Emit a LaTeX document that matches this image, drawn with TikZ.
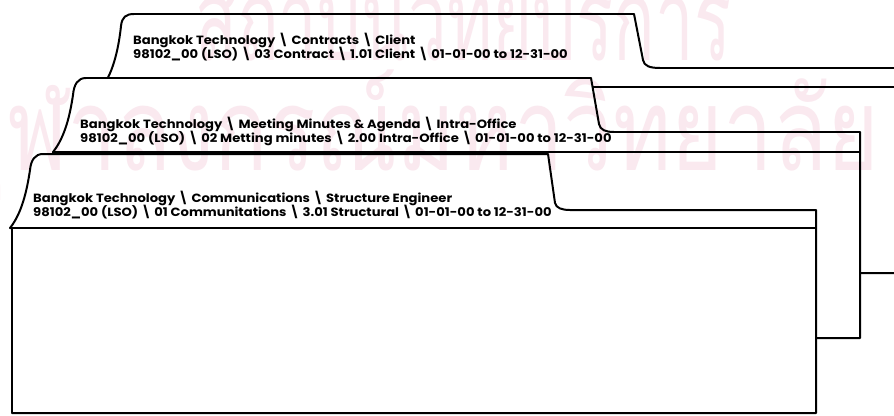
\documentclass[tikz,border=0pt]{standalone}
\usepackage{fontspec}
\newfontfamily\tabfont{Poppins}[FakeStretch=1.1]
\newfontfamily\thaifont[Script=Thai]{Loma}
\usetikzlibrary{positioning}
\definecolor{wmpink}{RGB}{250,233,239}
\newcommand{\bsl}{\textbackslash}
\tikzset{
  folder/.style={draw, fill=white, line width=1.7pt, line join=round},
  foldline/.style={line width=1.2pt},
  tabtext/.style={anchor=base west, inner sep=0pt, font=\tabfont\bfseries\fontsize{10.2}{12}\selectfont},
  watermark/.style={anchor=base west, inner sep=0pt, text=wmpink, font=\thaifont\fontsize{98}{100}\selectfont},
}

\begin{document}
\begin{tikzpicture}[x=0.03cm, y=-0.03cm]
  \useasboundingbox (0,0) rectangle (894,415);
  \clip (0,0) rectangle (894,415);
  % back folder
  \draw[folder] (102,87) .. controls (114,72) and (119,45) .. (121,26)
    .. controls (122,17) and (126,14) .. (134,14) -- (634,14) -- (643,60)
    .. controls (644,66) and (650,68) .. (660,68) -- (900,68) -- (900,273) -- (102,273) -- cycle;
  \draw[foldline] (102,87) -- (900,87);
  \node[tabtext] (c1) at (133,44) {Bangkok Technology \bsl{} Contracts \bsl{} Client};
  \node[tabtext] (c2) at (133,58) {98102\_00 (LSO) \bsl{} 03 Contract \bsl{} 1.01 Client \bsl{} 01-01-00 to 12-31-00};
  % middle folder
  \draw[folder] (53,152) .. controls (65,137) and (70,115) .. (73,95)
    .. controls (74,84) and (78,78) .. (86,78) -- (591,78) -- (599,124)
    .. controls (600,130) and (606,132) .. (614,132) -- (860,132) -- (860,338) -- (53,338) -- cycle;
  \draw[foldline] (53,152) -- (860,152);
  \node[tabtext] (m1) at (80,128) {Bangkok Technology \bsl{} Meeting Minutes \& Agenda \bsl{} Intra-Office};
  \node[tabtext] (m2) at (80,142) {98102\_00 (LSO) \bsl{} 02 Metting minutes \bsl{} 2.00 Intra-Office \bsl{} 01-01-00 to 12-31-00};
  % front folder
  \draw[folder] (10,228) .. controls (22,213) and (27,190) .. (30,170)
    .. controls (31,160) and (35,154) .. (43,154) -- (548,154) -- (555,203)
    .. controls (556,208) and (562,210) .. (570,210) -- (816,210) -- (816,413) -- (12,413) -- (12,228) -- cycle;
  \draw[foldline] (10,228) -- (816,228);
  \node[tabtext] (s1) at (33,202) {Bangkok Technology \bsl{} Communications \bsl{} Structure Engineer};
  \node[tabtext] (s2) at (33,216) {98102\_00 (LSO) \bsl{} 01 Communitations \bsl{} 3.01 Structural \bsl{} 01-01-00 to 12-31-00};
  % watermark
  \begin{scope}[blend mode=multiply]
    \node[watermark] (wm1) at (195,60) {\scalebox{0.6}[1]{สถาบันวิทยบริการ}};
    \node[watermark] (wm2) at (-45,170) {\scalebox{0.77}[1]{จุฬาลงกรณ์มหาวิทยาลัย}};
  \end{scope}
\end{tikzpicture}
\end{document}
